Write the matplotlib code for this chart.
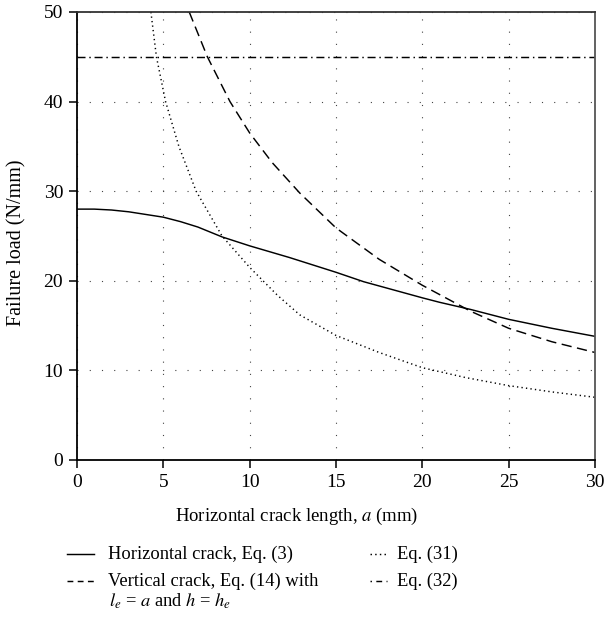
import matplotlib
matplotlib.use("Agg")
import matplotlib.pyplot as plt
from matplotlib.lines import Line2D

plt.rcParams['font.family'] = ['Liberation Serif', 'DejaVu Serif']
plt.rcParams['mathtext.fontset'] = 'stix'

# Horizontal crack, Eq. (3)
a_h = [0, 1, 2, 3, 4, 5, 6, 7, 8.4, 10, 12.3, 15, 16.6, 18.3, 20, 21, 22.8, 25, 27.5, 30]
p_h = [28.0, 28.0, 27.9, 27.7, 27.4, 27.1, 26.6, 26.0, 24.9, 23.9, 22.6, 20.95, 19.9, 19.0, 18.1, 17.6, 16.8, 15.7, 14.7, 13.8]

# Vertical crack, Eq. (14)
a_v = [6.5, 7.55, 8.86, 10, 11.3, 12.9, 15, 17.5, 20, 22.8, 25, 27.5, 30]
p_v = [50, 45, 40, 36.5, 33.2, 29.8, 25.9, 22.4, 19.5, 16.6, 14.7, 13.2, 12.0]

# Eq. (31)
a_31 = [4.28, 4.6, 5.13, 5.9, 6.9, 8.4, 10, 11.6, 12.9, 15, 17.5, 20, 22.5, 25, 27.5, 30]
p_31 = [50, 45, 40, 35, 30, 25, 21.5, 18.4, 16.2, 13.9, 12.0, 10.3, 9.2, 8.3, 7.6, 7.0]

# Eq. (32)
a_32 = [0, 30]
p_32 = [45, 45]

xticks = [0, 5, 10, 15, 20, 25, 30]
yticks = [0, 10, 20, 30, 40, 50]

fig = plt.figure(figsize=(6.05, 6.18), dpi=100)
ax = fig.add_axes([77/605, 1 - 460/618, 518/605, 448/618])

lw = 1.05
ls_dash = (0, (7, 3.8))
ls_dot = (0, (0.9, 2.2))
ls_dashdot = (0, (5.5, 2.6, 1, 2.6))
ax.plot(a_h, p_h, color='black', lw=lw, ls='-')
ax.plot(a_v, p_v, color='black', lw=lw, ls=ls_dash)
ax.plot(a_31, p_31, color='black', lw=lw, ls=ls_dot)
ax.plot(a_32, p_32, color='black', lw=lw, ls=ls_dashdot)

ax.set_xlim(0, 30)
ax.set_ylim(0, 50)
ax.set_xticks(xticks)
ax.set_yticks(yticks)
ax.grid(True, color='#444444', lw=0.8, ls=(0, (1, 10)))
ax.tick_params(direction='out', length=6, width=1.1, labelsize=14, pad=4)
for s in ax.spines.values():
    s.set_linewidth(1.3)
ax.spines['right'].set_color('#555555')
ax.spines['top'].set_color('#333333')

ax.set_xlabel('Horizontal crack length, $a$ (mm)', fontsize=13.5)
ax.xaxis.label.set_va('center')
ax.xaxis.set_label_coords((297 - 77) / 518, (460 - 516) / 448)
ax.set_ylabel('Failure load (N/mm)', fontsize=14.5)
ax.yaxis.label.set_va('center')
ax.yaxis.set_label_coords((17 - 77) / 518, (460 - 243) / 448)

# legend (manual)
def fx(px):
    return px / 605
def fy(py):
    return 1 - py / 618

fs = 13.3
fig.add_artist(Line2D([fx(67), fx(94)], [fy(554), fy(554)], color='black', lw=lw, ls='-'))
fig.text(fx(108), fy(554), 'Horizontal crack, Eq. (3)', fontsize=fs, va='center', ha='left')
fig.add_artist(Line2D([fx(67), fx(94)], [fy(581), fy(581)], color='black', lw=lw, ls=(0, (4, 3))))
fig.text(fx(108), fy(581), 'Vertical crack, Eq. (14) with', fontsize=fs, va='center', ha='left')
fig.text(fx(109), fy(601), '$l_e$ = $a$ and $h$ = $h_e$', fontsize=fs, va='center', ha='left')
fig.add_artist(Line2D([fx(370), fx(387)], [fy(554), fy(554)], color='black', lw=lw, ls=(0, (1, 2.2))))
fig.text(fx(397), fy(554), 'Eq. (31)', fontsize=fs, va='center', ha='left')
fig.add_artist(Line2D([fx(370), fx(387)], [fy(581), fy(581)], color='black', lw=lw, ls=(0, (1, 3, 4, 3))))
fig.text(fx(397), fy(581), 'Eq. (32)', fontsize=fs, va='center', ha='left')

fig.savefig('out.png', dpi=100)
